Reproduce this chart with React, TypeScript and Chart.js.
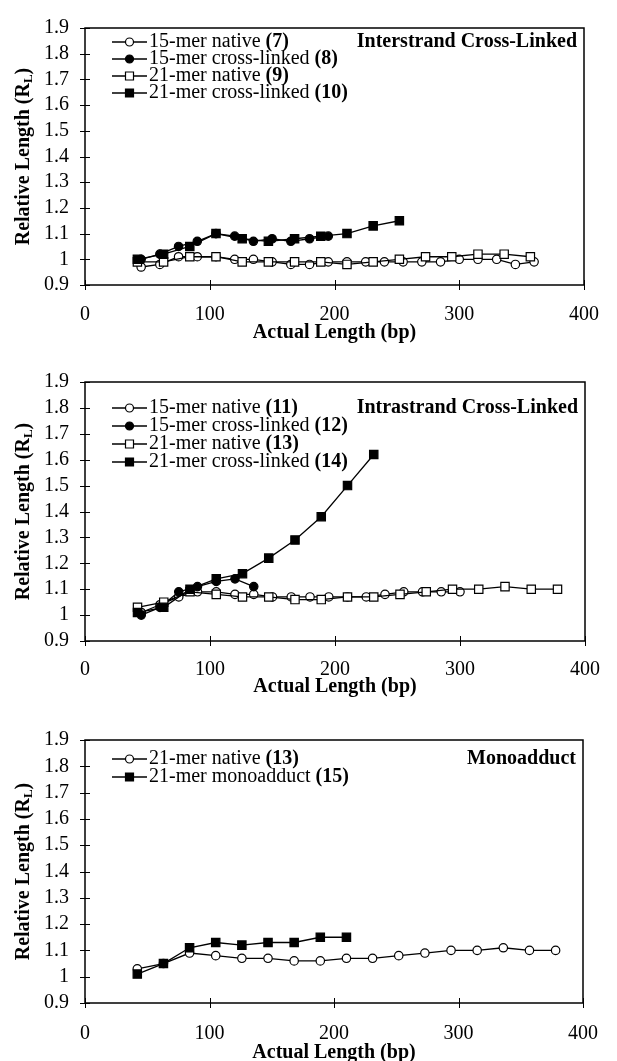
import React, { useEffect, useRef } from "react";
import { Chart, registerables } from "chart.js";

Chart.register(...registerables);

// ---------------- data ----------------
const X_TICKS = [0, 100, 200, 300, 400];
const Y_TICKS = [0.9, 1.0, 1.1, 1.2, 1.3, 1.4, 1.5, 1.6, 1.7, 1.8, 1.9];
const X_TITLE = "Actual Length (bp)";
const Y_TITLE_MAIN = "Relative Length (R";
const Y_TITLE_SUB = "L";
const Y_TITLE_END = ")";

// Panel 1 – interstrand cross-linked
const native15_7_x = [45, 60, 75, 90, 105, 120, 135, 150, 165, 180, 195, 210, 225, 240, 255, 270, 285, 300, 315, 330, 345, 360];
const native15_7_y = [0.97, 0.98, 1.01, 1.01, 1.01, 1.0, 1.0, 0.99, 0.98, 0.98, 0.99, 0.99, 0.99, 0.99, 0.99, 0.99, 0.99, 1.0, 1.0, 1.0, 0.98, 0.99];
const cl15_8_x = [45, 60, 75, 90, 105, 120, 135, 150, 165, 180, 195];
const cl15_8_y = [1.0, 1.02, 1.05, 1.07, 1.1, 1.09, 1.07, 1.08, 1.07, 1.08, 1.09];
const native21_9_x = [42, 63, 84, 105, 126, 147, 168, 189, 210, 231, 252, 273, 294, 315, 336, 357];
const native21_9_y = [0.99, 0.99, 1.01, 1.01, 0.99, 0.99, 0.99, 0.99, 0.98, 0.99, 1.0, 1.01, 1.01, 1.02, 1.02, 1.01];
const cl21_10_x = [42, 63, 84, 105, 126, 147, 168, 189, 210, 231, 252];
const cl21_10_y = [1.0, 1.02, 1.05, 1.1, 1.08, 1.07, 1.08, 1.09, 1.1, 1.13, 1.15];

// Panel 2 – intrastrand cross-linked
const native15_11_x = [45, 60, 75, 90, 105, 120, 135, 150, 165, 180, 195, 210, 225, 240, 255, 270, 285, 300];
const native15_11_y = [1.01, 1.04, 1.07, 1.09, 1.09, 1.08, 1.08, 1.07, 1.07, 1.07, 1.07, 1.07, 1.07, 1.08, 1.09, 1.09, 1.09, 1.09];
const cl15_12_x = [45, 60, 75, 90, 105, 120, 135];
const cl15_12_y = [1.0, 1.03, 1.09, 1.11, 1.13, 1.14, 1.11];
const native21_13_x = [42, 63, 84, 105, 126, 147, 168, 189, 210, 231, 252, 273, 294, 315, 336, 357, 378];
const native21_13_y = [1.03, 1.05, 1.09, 1.08, 1.07, 1.07, 1.06, 1.06, 1.07, 1.07, 1.08, 1.09, 1.1, 1.1, 1.11, 1.1, 1.1];
const cl21_14_x = [42, 63, 84, 105, 126, 147, 168, 189, 210, 231];
const cl21_14_y = [1.01, 1.03, 1.1, 1.14, 1.16, 1.22, 1.29, 1.38, 1.5, 1.62];

// Panel 3 – monoadduct
const mono21_15_x = [42, 63, 84, 105, 126, 147, 168, 189, 210];
const mono21_15_y = [1.01, 1.05, 1.11, 1.13, 1.12, 1.13, 1.13, 1.15, 1.15];

// ---------------- presentation ----------------
const FONT = '"Liberation Serif", "Times New Roman", serif';

type Marker = "openCircle" | "filledCircle" | "openSquare" | "filledSquare";
interface SeriesDef { name: string; num: string; xs: number[]; ys: number[]; marker: Marker; }
interface PanelDef {
  title: string;
  series: SeriesDef[];
  top: number;
  plotTop: number;
  plotHeight: number;
  canvasHeight: number;
  legendOffset: number;
  rowGap: number;
  labelPad: number;
  titleOffset: number;
}

const PANELS: PanelDef[] = [
  {
    title: "Interstrand Cross-Linked",
    series: [
      { name: "15-mer native ", num: "(7)", xs: native15_7_x, ys: native15_7_y, marker: "openCircle" },
      { name: "15-mer cross-linked ", num: "(8)", xs: cl15_8_x, ys: cl15_8_y, marker: "filledCircle" },
      { name: "21-mer native ", num: "(9)", xs: native21_9_x, ys: native21_9_y, marker: "openSquare" },
      { name: "21-mer cross-linked ", num: "(10)", xs: cl21_10_x, ys: cl21_10_y, marker: "filledSquare" },
    ],
    top: 0, plotTop: 21, plotHeight: 264, canvasHeight: 345, legendOffset: 14, rowGap: 17, labelPad: 18, titleOffset: 48,
  },
  {
    title: "Intrastrand Cross-Linked",
    series: [
      { name: "15-mer native ", num: "(11)", xs: native15_11_x, ys: native15_11_y, marker: "openCircle" },
      { name: "15-mer cross-linked ", num: "(12)", xs: cl15_12_x, ys: cl15_12_y, marker: "filledCircle" },
      { name: "21-mer native ", num: "(13)", xs: native21_13_x, ys: native21_13_y, marker: "openSquare" },
      { name: "21-mer cross-linked ", num: "(14)", xs: cl21_14_x, ys: cl21_14_y, marker: "filledSquare" },
    ],
    top: 354, plotTop: 21, plotHeight: 266, canvasHeight: 345, legendOffset: 26, rowGap: 18, labelPad: 17, titleOffset: 46,
  },
  {
    title: "Monoadduct",
    series: [
      { name: "21-mer native ", num: "(13)", xs: native21_13_x, ys: native21_13_y, marker: "openCircle" },
      { name: "21-mer monoadduct ", num: "(15)", xs: mono21_15_x, ys: mono21_15_y, marker: "filledSquare" },
    ],
    top: 712, plotTop: 21, plotHeight: 270, canvasHeight: 349, legendOffset: 19, rowGap: 18, labelPad: 19, titleOffset: 50,
  },
];

function drawMarker(ctx: CanvasRenderingContext2D, m: Marker, x: number, y: number) {
  ctx.save();
  ctx.lineWidth = 1.2;
  ctx.strokeStyle = "#000";
  ctx.fillStyle = m === "filledCircle" || m === "filledSquare" ? "#000" : "#fff";
  ctx.beginPath();
  if (m === "openCircle" || m === "filledCircle") {
    ctx.arc(x, y, 4, 0, Math.PI * 2);
  } else {
    ctx.rect(x - 4, y - 4, 8, 8);
  }
  ctx.fill();
  ctx.stroke();
  ctx.restore();
}

const decorPlugin = {
  id: "decor",
  afterDraw(chart: any, _args: any, opts: any) {
    const { ctx, chartArea: a, scales } = chart;
    const xs = scales.x;
    const ys = scales.y;
    ctx.save();
    // frame
    ctx.strokeStyle = "#000";
    ctx.lineWidth = 1.5;
    ctx.strokeRect(a.left, a.top, a.right - a.left, a.bottom - a.top);
    // crossing tick marks
    ctx.lineWidth = 1;
    ctx.beginPath();
    xs.ticks.forEach((t: any) => {
      const p = Math.round(xs.getPixelForValue(t.value)) + 0.5;
      ctx.moveTo(p, a.bottom - 5);
      ctx.lineTo(p, a.bottom + 5);
    });
    ys.ticks.forEach((t: any) => {
      const p = Math.round(ys.getPixelForValue(t.value)) + 0.5;
      ctx.moveTo(a.left - 5, p);
      ctx.lineTo(a.left + 5, p);
    });
    ctx.stroke();

    ctx.fillStyle = "#000";
    // x title
    ctx.font = `bold 20px ${FONT}`;
    ctx.textAlign = "center";
    ctx.textBaseline = "middle";
    ctx.fillText(X_TITLE, (a.left + a.right) / 2, a.bottom + opts.titleOffset);

    // y title with subscript
    ctx.save();
    ctx.translate(24, (a.top + a.bottom) / 2);
    ctx.rotate(-Math.PI / 2);
    ctx.textAlign = "left";
    ctx.textBaseline = "middle";
    const bigFont = `bold 20px ${FONT}`;
    const smallFont = `bold 13px ${FONT}`;
    ctx.font = bigFont;
    const w1 = ctx.measureText(Y_TITLE_MAIN).width;
    const w3 = ctx.measureText(Y_TITLE_END).width;
    ctx.font = smallFont;
    const w2 = ctx.measureText(Y_TITLE_SUB).width;
    let sx = -(w1 + w2 + w3) / 2;
    ctx.font = bigFont;
    ctx.fillText(Y_TITLE_MAIN, sx, 0);
    sx += w1;
    ctx.font = smallFont;
    ctx.fillText(Y_TITLE_SUB, sx, 5);
    sx += w2;
    ctx.font = bigFont;
    ctx.fillText(Y_TITLE_END, sx, 0);
    ctx.restore();

    // legend
    const series: SeriesDef[] = opts.series;
    const baseY = a.top + opts.legendOffset;
    series.forEach((s, i) => {
      const y = baseY + i * opts.rowGap;
      ctx.strokeStyle = "#000";
      ctx.lineWidth = 1.3;
      ctx.beginPath();
      ctx.moveTo(a.left + 27, y);
      ctx.lineTo(a.left + 62, y);
      ctx.stroke();
      drawMarker(ctx, s.marker, a.left + 44.5, y);
      ctx.fillStyle = "#000";
      ctx.textAlign = "left";
      ctx.textBaseline = "middle";
      ctx.font = `20px ${FONT}`;
      const tx = a.left + 64;
      ctx.fillText(s.name, tx, y);
      const wn = ctx.measureText(s.name).width;
      ctx.font = `bold 20px ${FONT}`;
      ctx.fillText(s.num, tx + wn, y);
    });

    // panel title
    ctx.font = `bold 20px ${FONT}`;
    ctx.textAlign = "right";
    ctx.textBaseline = "middle";
    ctx.fillText(opts.title, a.right - 7, baseY);
    ctx.restore();
  },
};

function Panel({ def }: { def: PanelDef }) {
  const ref = useRef<HTMLCanvasElement | null>(null);
  useEffect(() => {
    if (!ref.current) return;
    const xAxisHeight = def.canvasHeight - def.plotTop - def.plotHeight;
    const datasets = def.series.map((s, i) => {
      const filled = s.marker === "filledCircle" || s.marker === "filledSquare";
      const square = s.marker === "openSquare" || s.marker === "filledSquare";
      return {
        label: s.name + s.num,
        data: s.xs.map((x, k) => ({ x, y: s.ys[k] })),
        showLine: true,
        tension: 0,
        borderColor: "#000",
        borderWidth: 1.3,
        backgroundColor: filled ? "#000" : "#fff",
        pointBackgroundColor: filled ? "#000" : "#fff",
        pointBorderColor: "#000",
        pointBorderWidth: 1.2,
        pointStyle: square ? "rect" : "circle",
        pointRadius: square ? 5.9 : 4.2,
        order: -i,
        clip: false,
      };
    });
    const chart = new Chart(ref.current, {
      type: "scatter",
      data: { datasets },
      options: {
        responsive: false,
        animation: false,
        events: [],
        layout: { padding: { top: def.plotTop, right: 19, left: 0, bottom: 0 } },
        plugins: {
          legend: { display: false },
          tooltip: { enabled: false },
          title: { display: false },
          decor: {
            series: def.series,
            title: def.title,
            legendOffset: def.legendOffset,
            rowGap: def.rowGap,
            titleOffset: def.titleOffset,
          },
        } as any,
        scales: {
          x: {
            type: "linear",
            min: X_TICKS[0],
            max: X_TICKS[X_TICKS.length - 1],
            afterBuildTicks: (s: any) => { s.ticks = X_TICKS.map((v) => ({ value: v })); },
            afterFit: (s: any) => { s.height = xAxisHeight; },
            ticks: { color: "#000", font: { family: FONT, size: 20 }, padding: def.labelPad, maxRotation: 0, autoSkip: false },
            grid: { display: false, drawTicks: false },
            border: { display: false },
          },
          y: {
            type: "linear",
            min: Y_TICKS[0],
            max: Y_TICKS[Y_TICKS.length - 1],
            afterBuildTicks: (s: any) => { s.ticks = Y_TICKS.map((v) => ({ value: v })); },
            afterFit: (s: any) => { s.width = 85; },
            ticks: {
              color: "#000",
              font: { family: FONT, size: 20 },
              padding: 16,
              autoSkip: false,
              callback: (v: any) => String(Math.round(Number(v) * 10) / 10),
            },
            grid: { display: false, drawTicks: false },
            border: { display: false },
          },
        },
      },
      plugins: [decorPlugin as any],
    });
    return () => chart.destroy();
  }, [def]);
  return (
    <div style={{ position: "absolute", left: 0, top: def.top, width: 617, height: def.canvasHeight }}>
      <canvas ref={ref} width={617} height={def.canvasHeight} style={{ display: "block", width: 617, height: def.canvasHeight }} />
    </div>
  );
}

export default function App() {
  return (
    <div style={{ position: "absolute", left: 0, top: 0, width: 617, height: 1061, overflow: "hidden", background: "#fff" }}>
      {PANELS.map((p, i) => (
        <Panel key={i} def={p} />
      ))}
    </div>
  );
}
